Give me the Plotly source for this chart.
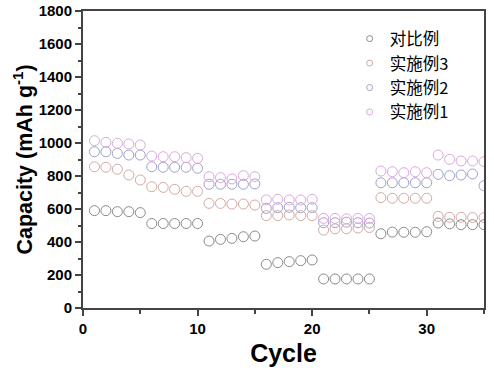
import plotly.graph_objects as go

cycles = list(range(1, 36))

duibi = [590, 590, 584, 584, 578,
         512, 512, 512, 512, 512,
         406, 416, 422, 432, 436,
         265, 275, 281, 287, 291,
         176, 176, 176, 176, 176,
         450, 460, 459, 459, 462,
         515, 510, 505, 505, 505]

shishi3 = [856, 853, 841, 806, 776,
           735, 731, 719, 707, 707,
           634, 634, 630, 630, 624,
           560, 560, 564, 560, 560,
           472, 480, 480, 485, 488,
           669, 665, 665, 665, 665,
           555, 550, 550, 548, 548]

shishi2 = [947, 947, 937, 927, 927,
           856, 853, 853, 853, 847,
           750, 750, 750, 750, 752,
           604, 608, 610, 608, 608,
           517, 517, 520, 517, 515,
           759, 759, 759, 759, 759,
           810, 802, 806, 812, 741]

shishi1 = [1014, 1004, 998, 994, 988,
           921, 917, 917, 911, 907,
           796, 790, 782, 802, 796,
           655, 659, 655, 655, 659,
           543, 543, 540, 543, 543,
           830, 826, 820, 826, 820,
           927, 901, 891, 891, 887]

names = ["对比例", "实施例3", "实施例2", "实施例1"]
series = [duibi, shishi3, shishi2, shishi1]
colors = ["#8a8a8a", "#d3aaa3", "#a0a0cc", "#dca8dc"]

fig = go.Figure()
for n, s, c in zip(names, series, colors):
    fig.add_trace(go.Scatter(
        x=cycles, y=s, mode="markers", name=n, showlegend=False,
        marker=dict(symbol="circle-open", size=10, color=c, line=dict(width=1, color=c)),
    ))
# legend entries (small symbols as in the reference)
for n, c in zip(names, colors):
    fig.add_trace(go.Scatter(
        x=[None], y=[None], mode="markers", name=n, showlegend=True,
        marker=dict(symbol="circle-open", size=6, color=c, line=dict(width=1, color=c)),
    ))

axis_font = dict(family="Liberation Sans, Arial", size=15, color="black", weight="bold")
fig.update_layout(
    width=494, height=375,
    margin=dict(l=83, r=10, t=11, b=67),
    paper_bgcolor="white", plot_bgcolor="white",
    showlegend=True,
    legend=dict(x=0.665, y=0.965, xanchor="left", yanchor="top",
                bgcolor="rgba(0,0,0,0)", borderwidth=0,
                font=dict(family="Noto Sans CJK SC", size=16.5, color="black"),
                itemwidth=30, tracegroupgap=0),
    xaxis=dict(range=[0, 35], showgrid=False, zeroline=False, automargin=False,
               showline=True, linewidth=2, linecolor="#444", mirror=True,
               ticks="outside", ticklen=6, tickwidth=1.5, tickcolor="#444",
               dtick=10, tick0=0, tickfont=axis_font,
               minor=dict(dtick=5, ticks="outside", ticklen=4, tickcolor="#444"),
               title=dict(text="Cycle", font=dict(family="Liberation Sans, Arial", size=25, color="black", weight="bold"), standoff=8)),
    yaxis=dict(range=[0, 1800], showgrid=False, zeroline=False, automargin=False,
               showline=True, linewidth=2, linecolor="#444", mirror=True,
               ticks="outside", ticklen=6, tickwidth=1.5, tickcolor="#444",
               dtick=200, tick0=0, tickfont=axis_font,
               minor=dict(dtick=100, ticks="outside", ticklen=3, tickcolor="#444"),
               title=dict(text="Capacity (mAh g<sup>-1</sup>)", font=dict(family="Liberation Sans, Arial", size=21.5, color="black", weight="bold"), standoff=0)),
)

fig.write_html("out.html", config={"displayModeBar": False},
               post_script="document.body.style.margin='0';")
